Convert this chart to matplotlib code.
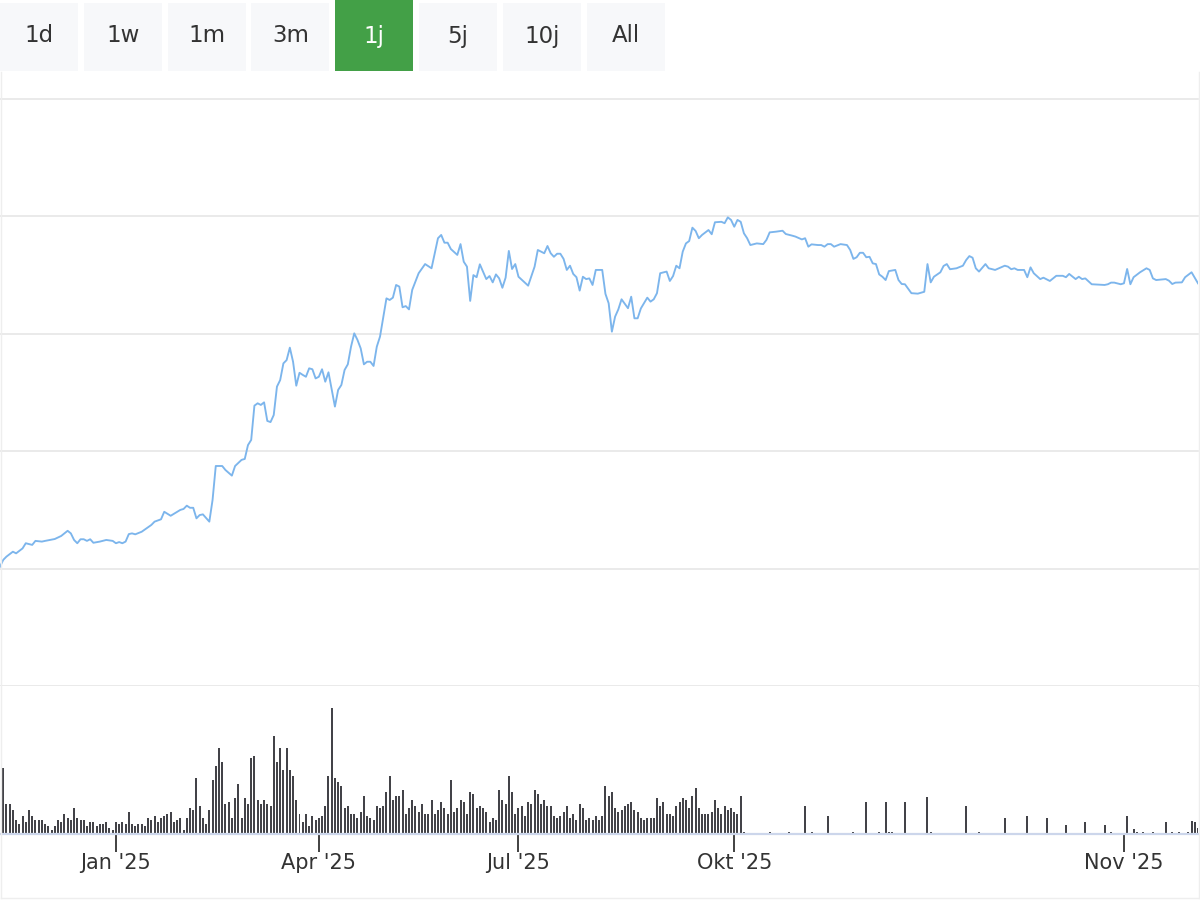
import matplotlib
matplotlib.use("Agg")
import matplotlib.pyplot as plt
from matplotlib.patches import Rectangle
from matplotlib.lines import Line2D

# Zeitraum-Buttons oberhalb des Charts.
buttons = ["1d", "1w", "1m", "3m", "1j", "5j", "10j", "All"]
active_button = "1j"

# Monatsbeschriftungen auf der x-Achse (Index des Datenpunkts).
tick_idx = [36, 99, 161, 228, 349]
tick_labels = ["Jan '25", "Apr '25", "Jul '25", "Okt '25", "Nov '25"]

# Kursverlauf (Index, Kurs).
price_idx = [
  0, 1, 2, 4, 5, 7, 8, 10, 11, 13, 14, 17, 19, 21, 22, 23, 24, 25, 26, 27,
  28, 29, 31, 33, 35, 36, 37, 38, 39, 40, 41, 42, 44, 47, 48, 50, 51, 53, 56, 57,
  58, 59, 60, 61, 62, 63, 65, 66, 67, 69, 70, 72, 73, 75, 76, 77, 78, 79, 80, 81,
  82, 83, 84, 85, 86, 87, 88, 89, 90, 91, 92, 93, 94, 95, 96, 97, 98, 99, 100, 101,
  102, 104, 105, 106, 107, 108, 109, 110, 111, 112, 113, 114, 115, 116, 117, 118, 120, 121, 122, 123,
  124, 125, 126, 127, 128, 130, 132, 134, 136, 137, 138, 139, 140, 142, 143, 144, 145, 146, 147, 148,
  149, 150, 151, 152, 153, 154, 155, 156, 157, 158, 159, 160, 161, 164, 166, 167, 169, 170, 171, 172,
  173, 174, 175, 176, 177, 178, 179, 180, 181, 182, 183, 184, 185, 187, 188, 189, 190, 191, 192, 193,
  195, 196, 197, 198, 199, 201, 202, 203, 204, 205, 207, 208, 209, 210, 211, 212, 213, 214, 215, 216,
  217, 218, 220, 221, 222, 224, 225, 226, 227, 228, 229, 230, 231, 232, 233, 235, 237, 238, 239, 241,
  243, 244, 246, 247, 249, 250, 251, 252, 254, 255, 256, 257, 258, 259, 261, 263, 264, 265, 266, 267,
  268, 269, 270, 271, 272, 273, 274, 275, 276, 278, 279, 280, 281, 283, 285, 287, 288, 289, 290, 292,
  293, 294, 295, 297, 299, 300, 301, 302, 303, 304, 306, 307, 309, 312, 313, 314, 315, 316, 318, 319,
  320, 321, 323, 324, 326, 328, 330, 331, 332, 334, 335, 336, 337, 339, 343, 344, 345, 346, 348, 349,
  350, 351, 352, 354, 356, 357, 358, 359, 362, 363, 364, 365, 367, 368, 370, 372
]
price = [
  100.8, 103.7, 105.1, 107.2, 106.5, 108.6, 110.8, 110.1, 111.8, 111.5, 111.8, 112.6, 113.9, 116.1, 115.0, 112.2, 110.8, 112.5, 112.5, 111.8,
  112.5, 111.0, 111.5, 112.2, 111.8, 110.8, 111.3, 110.8, 111.5, 114.7, 115.0, 114.6, 115.7, 118.6, 120.0, 121.0, 124.2, 122.5, 125.0, 125.4,
  126.8, 125.9, 125.9, 121.4, 122.8, 123.1, 120.0, 129.2, 143.7, 143.7, 142.0, 139.6, 143.7, 146.3, 146.7, 152.6, 154.8, 169.4, 170.4, 169.7,
  170.8, 162.9, 162.4, 165.4, 177.5, 180.3, 187.4, 188.8, 194.1, 188.1, 177.9, 183.4, 182.5, 181.7, 185.3, 184.9, 181.0, 181.7, 184.9, 179.6,
  183.6, 169.0, 176.1, 178.2, 184.6, 187.0, 194.5, 200.2, 197.4, 193.8, 187.0, 188.1, 188.1, 186.3, 194.5, 198.8, 215.1, 214.4, 215.4, 220.8,
  220.1, 211.3, 211.8, 210.4, 218.7, 225.8, 229.7, 227.9, 240.7, 242.1, 238.8, 238.8, 236.1, 233.6, 238.2, 230.7, 228.6, 214.0, 225.0, 224.1,
  229.6, 226.5, 223.3, 224.6, 221.9, 225.3, 223.6, 219.6, 223.9, 235.3, 227.6, 229.7, 224.3, 220.5, 228.6, 235.7, 234.3, 237.4, 234.3, 232.8,
  234.1, 234.1, 231.9, 227.2, 229.0, 225.5, 224.1, 218.4, 224.3, 223.3, 223.6, 220.8, 227.2, 227.2, 217.0, 213.0, 200.9, 207.3, 210.4, 214.7,
  210.9, 215.8, 206.6, 206.6, 210.8, 215.4, 213.7, 214.7, 217.3, 225.8, 226.5, 222.5, 224.6, 229.0, 227.9, 235.0, 238.5, 239.5, 245.2, 243.8,
  240.7, 242.1, 244.2, 242.4, 247.5, 247.7, 247.1, 249.6, 248.5, 245.6, 248.5, 247.7, 242.8, 240.7, 237.8, 238.5, 238.2, 240.0, 243.2, 243.5,
  243.9, 242.5, 241.8, 241.4, 240.2, 240.7, 237.1, 238.1, 237.8, 237.8, 237.1, 238.2, 238.2, 237.1, 238.2, 237.8, 235.7, 231.9, 232.6, 234.5,
  234.5, 232.6, 232.8, 230.0, 229.7, 225.3, 224.3, 222.9, 226.7, 227.2, 222.9, 221.2, 221.1, 217.3, 217.1, 217.9, 229.7, 221.9, 224.3, 226.2,
  228.9, 229.7, 227.5, 227.9, 229.0, 231.4, 233.1, 232.4, 227.9, 226.5, 229.7, 227.9, 227.2, 229.0, 228.6, 227.5, 227.9, 227.2, 227.2, 224.1,
  228.3, 225.8, 223.3, 223.9, 222.5, 224.7, 224.7, 224.1, 225.5, 223.3, 224.3, 223.3, 223.6, 221.1, 220.8, 221.1, 221.8, 221.8, 221.1, 221.5,
  227.6, 221.1, 224.1, 226.2, 227.9, 227.2, 223.6, 222.9, 223.3, 222.6, 221.2, 221.8, 221.9, 224.1, 226.2, 221.5
]

# Handelsvolumen: durchgehender Teil ab Index 1.
volume_start = 1
volume_dense = [
  66, 30, 30, 24, 14, 10, 18, 12, 24, 18, 14, 14, 14, 10, 8, 4, 8, 14, 12, 20,
  16, 14, 26, 16, 14, 14, 8, 12, 12, 8, 10, 10, 12, 6, 4, 12, 10, 12, 10, 22,
  10, 8, 10, 10, 8, 16, 14, 18, 12, 16, 18, 20, 22, 12, 14, 16, 4, 16, 26, 24,
  56, 28, 16, 10, 24, 54, 68, 86, 72, 30, 32, 16, 36, 50, 16, 36, 30,
  76, 78, 34, 30, 34, 30, 28, 98, 72, 86, 64, 86, 64, 58, 34, 20, 12, 20, 8, 18,
  14, 16, 18, 28, 58, 126, 56, 52, 48, 26, 28, 20, 20, 16, 22, 38, 18, 16, 14, 28,
  26, 28, 42, 58, 34, 38, 38, 44, 20, 26, 34, 28, 22, 30, 20, 20, 34, 20, 24, 32,
  26, 20, 54, 22, 26, 34, 32, 20, 42, 40, 26, 28, 26, 22, 12, 16, 14,
  44, 34, 30, 58, 42, 20, 26, 28, 18, 32, 30, 44, 40, 30, 34, 28, 28, 18, 16, 18,
  22, 28, 16, 20, 14, 30, 26, 14, 16, 14, 18, 14, 18, 48, 38, 42, 26, 22, 24, 28,
  30, 32, 24, 22, 16, 14, 16, 16, 16, 36, 28, 32, 20, 20, 18, 28, 32, 36, 34, 26,
  38, 46, 26, 20, 20, 20, 22, 34, 26, 20, 28, 24, 26, 22, 20, 38, 2
]
# Handelsvolumen: vereinzelte Werte am Ende.
volume_tail_idx = [239, 245, 250, 252, 257, 265, 269, 273, 275, 276, 277, 281, 288, 289, 300, 304, 312, 319, 325, 331,
                   337, 343, 345, 350, 352, 353, 355, 358, 362, 364, 366, 369, 370, 371, 372]
volume_tail = [2, 2, 28, 2, 18, 2, 32, 2, 32, 2, 2, 32, 37, 2, 28, 2, 16, 18, 16, 9,
               12, 9, 2, 18, 5, 2, 2, 2, 12, 2, 2, 2, 13, 12, 6]

# Gitterlinien des Kurs-Charts.
price_grid = [50, 100, 150, 200, 250, 300]

W, H = 1200, 900

def fx(px):
  return px / W

def fy(py):
  return 1 - py / H

def main():
  fig = plt.figure(figsize=(12, 9), dpi=100)
  fig.patch.set_facecolor("white")

  # Dezenter Rahmen links, rechts und unten.
  for xs, ys in [([0.5, 0.5], [72, 897.5]), ([1199, 1199], [72, 897.5]), ([0.5, 1199], [897.5, 897.5])]:
    fig.add_artist(Line2D([fx(x) for x in xs], [fy(y) for y in ys], transform=fig.transFigure,
                          color="#eeeeee", lw=1))

  # Buttons zeichnen.
  for i, label in enumerate(buttons):
    left = i * 83.8
    active = label == active_button
    top = 0 if active else 3
    color = "#43a047" if active else "#f7f8fa"
    fig.patches.append(Rectangle((fx(left), fy(71)), fx(78), fy(top) - fy(71),
                                 transform=fig.transFigure, facecolor=color, edgecolor="none"))
    fig.text(fx(left + 39), fy(36), label, ha="center", va="center", fontsize=16.5,
             color="white" if active else "#333333")

  # Kurs-Chart.
  ax = fig.add_axes([0, fy(686), 1198 / W, fy(99) - fy(686)])
  for g in price_grid:
    ax.axhline(g, color="#e6e6e6", lw=1.2, zorder=0, clip_on=False)
  ax.plot(price_idx, price, color="#7cb5ec", lw=1.35, solid_joinstyle="round")
  ax.set_xlim(0, 372)
  ax.set_ylim(50, 300)
  ax.axis("off")

  # Volumen-Chart.
  ax2 = fig.add_axes([0, fy(834), 1198 / W, fy(686) - fy(834)])
  dense_idx = range(volume_start, volume_start + len(volume_dense))
  ax2.bar(dense_idx, volume_dense, width=0.62, color="#434348", linewidth=0)
  ax2.bar(volume_tail_idx, volume_tail, width=0.62, color="#434348", linewidth=0)
  ax2.set_xlim(0, 372)
  ax2.set_ylim(0, 148)
  for side in ["top", "left", "right"]:
    ax2.spines[side].set_visible(False)
  ax2.spines["bottom"].set_color("#ccd6eb")
  ax2.spines["bottom"].set_linewidth(1.6)
  ax2.set_yticks([])
  ax2.set_xticks(tick_idx)
  ax2.set_xticklabels(tick_labels, fontsize=15, color="#333333")
  ax2.tick_params(axis="x", length=13, width=1.3, color="#333333", pad=1)

  fig.savefig("out.png", dpi=100, facecolor="white")

if __name__ == "__main__":
  main()
